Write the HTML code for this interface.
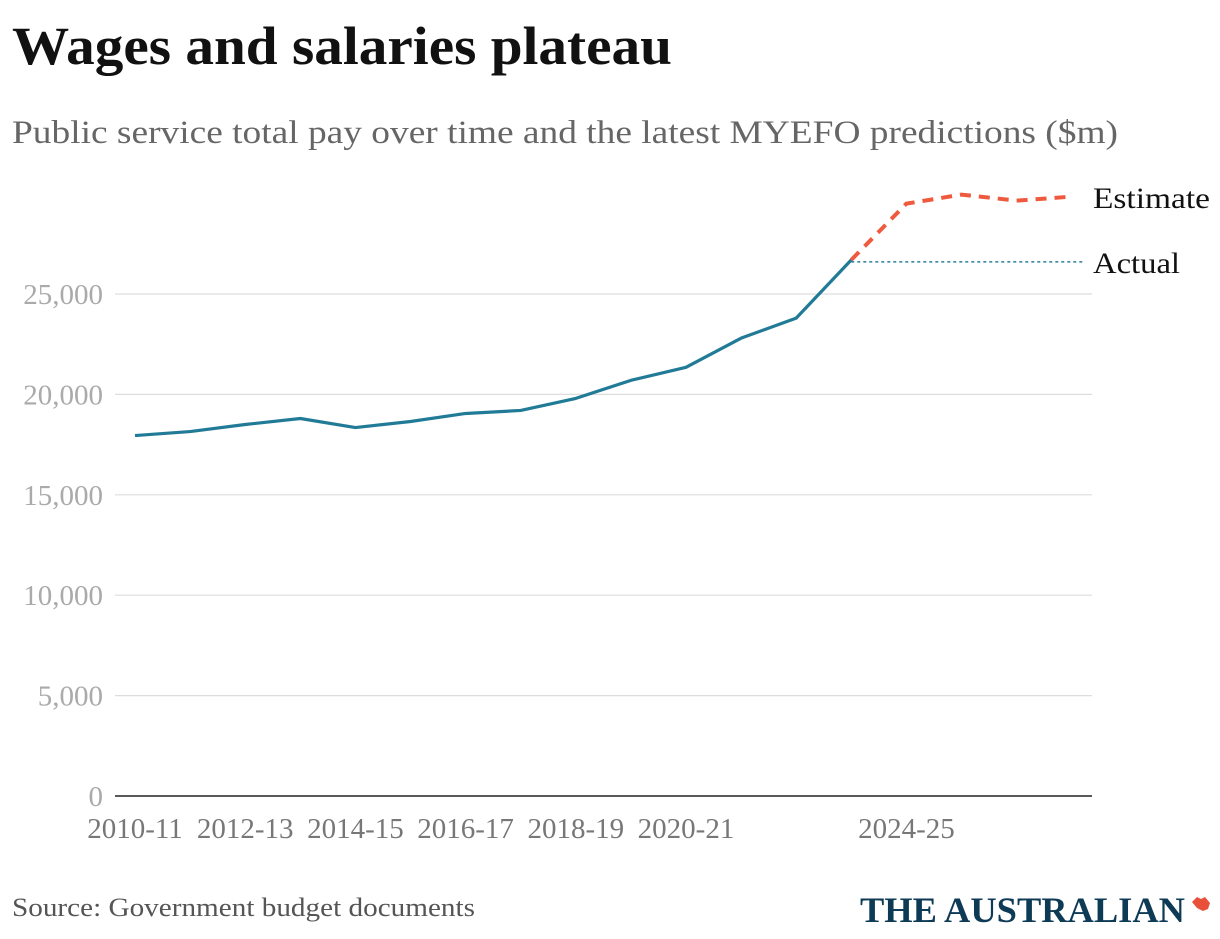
<!DOCTYPE html>
<html><head><meta charset="utf-8"><style>
body{margin:0;background:#fff;width:1220px;height:934px;overflow:hidden;font-family:"Liberation Serif",serif;}
</style></head><body>
<svg width="1220" height="934" xmlns="http://www.w3.org/2000/svg">
<text x="12" y="64" font-size="54" font-weight="bold" fill="#111" textLength="660" lengthAdjust="spacingAndGlyphs">Wages and salaries plateau</text>
<text x="12" y="143" font-size="33" fill="#666" textLength="1106" lengthAdjust="spacingAndGlyphs">Public service total pay over time and the latest MYEFO predictions ($m)</text>
<g id="grid"></g>
<g id="yt"></g>
<g id="xt"></g>
<g id="series"></g>
<text x="1093" y="208" font-size="30" fill="#111" textLength="117" lengthAdjust="spacingAndGlyphs">Estimate</text>
<text x="1093" y="273" font-size="30" fill="#111" textLength="87" lengthAdjust="spacingAndGlyphs">Actual</text>
<text x="12" y="916" font-size="26" fill="#555" textLength="463" lengthAdjust="spacingAndGlyphs">Source: Government budget documents</text>
<text x="860" y="922" font-size="36" font-weight="bold" fill="#0d3a55" textLength="325" lengthAdjust="spacingAndGlyphs">THE AUSTRALIAN</text>
<path d="M1192 902 l5 -5 l4 2 l4 -2 l5 6 l-2 6 l-5 2 l-6 -3 z" fill="#e8503a"/>
</svg>
<script>
const yTicks=[0,5000,10000,15000,20000,25000];
const years=["2010-11","2011-12","2012-13","2013-14","2014-15","2015-16","2016-17","2017-18","2018-19","2019-20","2020-21","2021-22","2022-23","2023-24","2024-25","2025-26","2026-27","2027-28"];
const xLabels=["2010-11","2012-13","2014-15","2016-17","2018-19","2020-21","2024-25"];
const actual=[17950,18150,18500,18800,18350,18650,19050,19200,19800,20700,21350,22800,23800,26700];
const estimate=[26700,29500,29950,29650,29850];
const NS="http://www.w3.org/2000/svg";
const x=i=>135+i*55.1;
const y=v=>796-v*(502/25000);
function mk(t,a,p){const e=document.createElementNS(NS,t);for(const k in a)e.setAttribute(k,a[k]);p.appendChild(e);return e;}
const grid=document.getElementById('grid'),yt=document.getElementById('yt'),xt=document.getElementById('xt'),s=document.getElementById('series');
yTicks.forEach(v=>{
 const l=mk('line',{x1:115,x2:1092,y1:y(v),y2:y(v),stroke:v?'#ddd':'#222','stroke-width':v?1.2:1.5},grid);
 
 
 const t=mk('text',{x:103,y:y(v)+10,'text-anchor':'end','font-size':29,fill:'#aaa'},yt);
 
 
 t.textContent=v.toLocaleString('en-US');
});
xLabels.forEach(lab=>{
 const i=years.indexOf(lab);
 const t=mk('text',{x:x(i),y:838,'text-anchor':'middle','font-size':29,fill:'#777'},xt);
 
 
 t.textContent=lab;
});
const last=actual.length-1;
const ref=mk('line',{x1:x(last),x2:1085,y1:y(actual[last])+2,y2:y(actual[last])+2,stroke:'#2a7f9a','stroke-width':1.6,'stroke-dasharray':'3,3'},s);


const ap=mk('polyline',{points:actual.map((v,i)=>x(i)+','+y(v)).join(' '),fill:'none',stroke:'#217b97','stroke-width':3.2,'stroke-linejoin':'round'},s);


const ep=mk('polyline',{points:estimate.map((v,i)=>x(last+i)+','+y(v)).join(' '),fill:'none',stroke:'#ef5a3f','stroke-width':4,'stroke-dasharray':'11,8'},s);


</script>
</body></html>
